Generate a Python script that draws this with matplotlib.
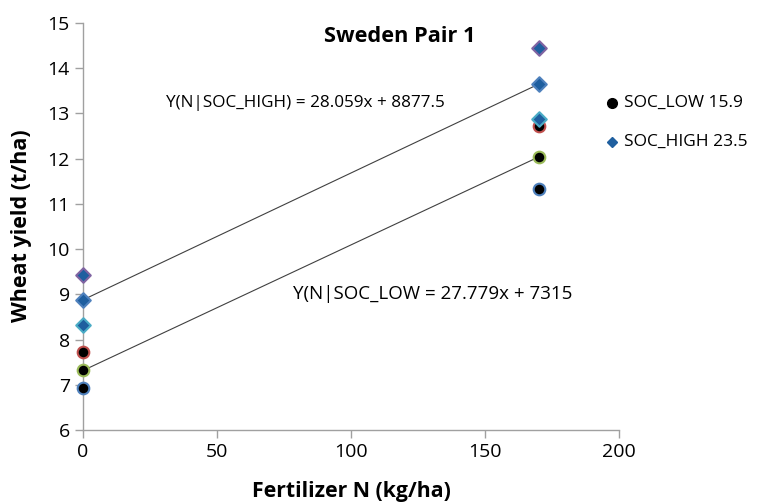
import matplotlib.pyplot as plt
import numpy as np

# fertilizer levels (kg N/ha)
fert_n = [0, 170]

# SOC_LOW replicates (t/ha) at N = 0 and 170
low_rep1 = [7.72, 12.72]
low_rep2 = [7.32, 12.04]
low_rep3 = [6.92, 11.33]
# SOC_HIGH replicates
high_rep1 = [9.43, 14.45]
high_rep2 = [8.88, 13.65]
high_rep3 = [8.33, 12.87]

# trend lines (kg/ha -> t/ha)
low_fit = (27.779, 7315)
high_fit = (28.059, 8877.5)

plt.rcParams['font.family'] = ['Open Sans', 'DejaVu Sans']

fig = plt.figure(figsize=(7.61, 5.03), dpi=100)
ax = fig.add_axes([83 / 761, 1 - 430 / 503, (619 - 83) / 761, (430 - 23) / 503])

# trend lines
xs = np.array(fert_n)
ax.plot(xs, (high_fit[0] * xs + high_fit[1]) / 1000, color='#404040', lw=0.8, zorder=1)
ax.plot(xs, (low_fit[0] * xs + low_fit[1]) / 1000, color='#404040', lw=0.8, zorder=1)

# SOC_LOW circles
for vals, edge in [(low_rep1, '#C0504D'), (low_rep2, '#9BBB59'), (low_rep3, '#4F81BD')]:
    ax.scatter(fert_n, vals, s=70, marker='o', facecolor='black', edgecolor=edge,
               linewidth=1.5, zorder=3)

# SOC_HIGH diamonds
for vals, edge in [(high_rep1, '#8064A2'), (high_rep2, '#4F81BD'), (high_rep3, '#4BACC6')]:
    ax.scatter(fert_n, vals, s=55, marker='D', facecolor='#1F5F9F', edgecolor=edge,
               linewidth=1.5, zorder=4)

ax.set_xlim(0, 200)
ax.set_ylim(6, 15)
ax.set_xticks([0, 50, 100, 150, 200])
ax.set_yticks(range(6, 16))
ax.tick_params(labelsize=14, color='#a0a0a0', length=6, width=1)
for s in ['top', 'right']:
    ax.spines[s].set_visible(False)
for s in ['left', 'bottom']:
    ax.spines[s].set_color('#a0a0a0')
    ax.spines[s].set_linewidth(1)
ax.patch.set_alpha(0)
for c in ax.collections:
    c.set_clip_on(False)

fig.text(22 / 761, 1 - 226 / 503, 'Wheat yield (t/ha)', rotation=90, fontsize=15.5,
         fontweight='bold', ha='center', va='center')
fig.text(351 / 761, 1 - 492 / 503, 'Fertilizer N (kg/ha)', fontsize=15.3,
         fontweight='bold', ha='center', va='center')
fig.text(400 / 761, 1 - 36 / 503, 'Sweden Pair 1', fontsize=15.7, fontweight='bold',
         ha='center', va='center')

fig.text(305 / 761, 1 - 103 / 503, 'Y(N|SOC_HIGH) = 28.059x + 8877.5', fontsize=12.3,
         ha='center', va='center')
fig.text(433 / 761, 1 - 294 / 503, 'Y(N|SOC_LOW = 27.779x + 7315', fontsize=13.5,
         ha='center', va='center')

# legend
fig.add_artist(plt.Line2D([612 / 761], [1 - 103 / 503], marker='o', color='black',
                          markersize=7, linestyle='none', transform=fig.transFigure))
fig.add_artist(plt.Line2D([612 / 761], [1 - 142 / 503], marker='D', color='#1F5F9F',
                          markersize=5.5, linestyle='none', transform=fig.transFigure))
fig.text(624 / 761, 1 - 103 / 503, 'SOC_LOW 15.9', fontsize=12.5, va='center')
fig.text(624 / 761, 1 - 142 / 503, 'SOC_HIGH 23.5', fontsize=12.5, va='center')

fig.savefig('out.png', dpi=100)
